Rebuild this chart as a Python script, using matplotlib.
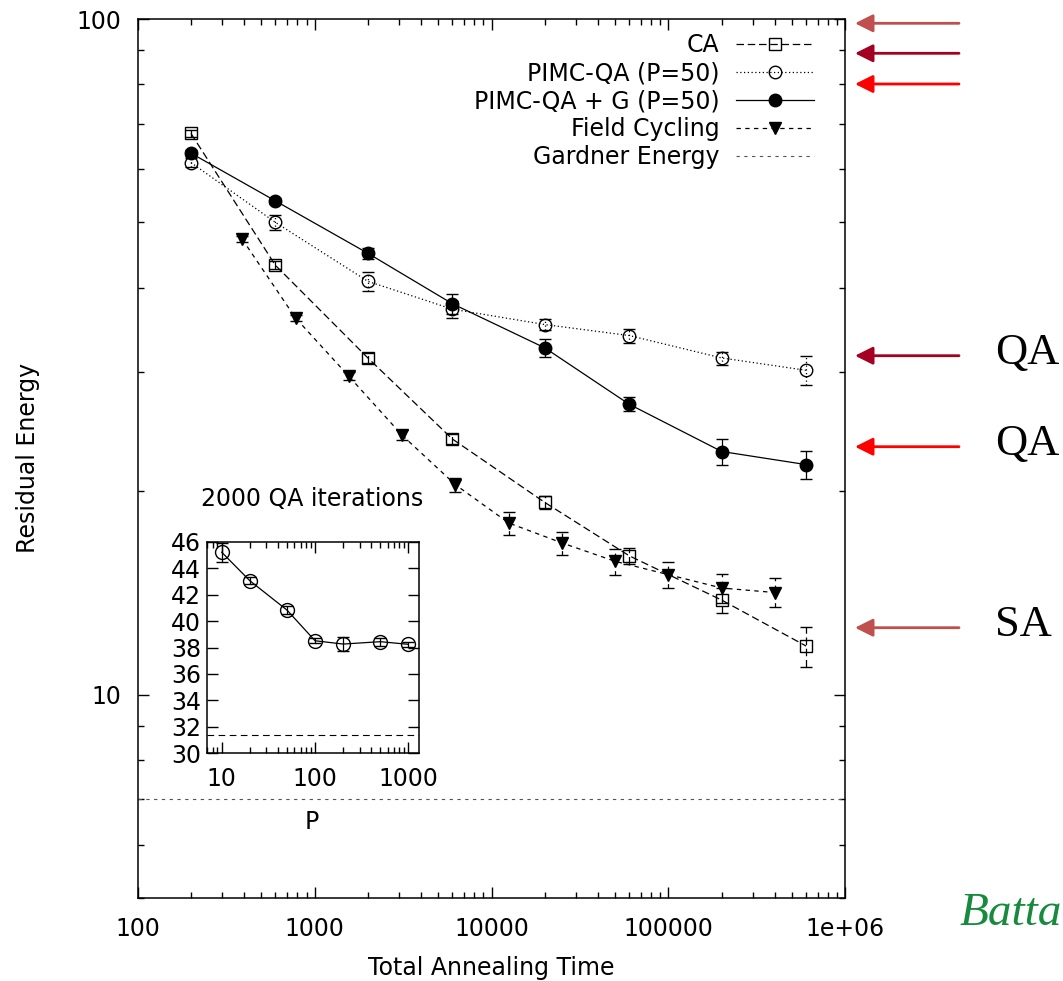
import matplotlib
matplotlib.use("Agg")
import matplotlib.pyplot as plt
from matplotlib.lines import Line2D
from matplotlib.patches import FancyArrowPatch
from matplotlib.ticker import LogLocator, FixedLocator, NullFormatter, FixedFormatter

plt.rcParams['font.family'] = ['DejaVu Sans']

# ---------------- data ----------------
ca_time = [200, 600, 2000, 6000, 20000, 60000, 200000, 600000]
ca_energy = [67.7, 43.2, 31.5, 23.9, 19.25, 16.05, 13.8, 11.8]
ca_err = [0.8, 0.6, 0.5, 0.4, 0.4, 0.45, 0.6, 0.8]

qa_time = [200, 600, 2000, 6000, 20000, 60000, 200000, 600000]
qa_energy = [61.3, 50.0, 40.9, 37.2, 35.3, 34.0, 31.5, 30.2]
qa_err = [1.0, 1.2, 1.3, 1.1, 0.7, 0.8, 0.7, 1.5]

qag_time = [200, 600, 2000, 6000, 20000, 60000, 200000, 600000]
qag_energy = [63.3, 53.8, 45.0, 37.9, 32.6, 26.9, 22.9, 21.9]
qag_err = [0.6, 0.5, 0.85, 1.3, 1.0, 0.65, 1.0, 1.05]

fc_time = [390, 780, 1560, 3125, 6250, 12500, 25000, 50000, 100000, 200000, 400000]
fc_energy = [47.2, 36.1, 29.6, 24.2, 20.45, 17.95, 16.77, 15.75, 15.05, 14.38, 14.16]
fc_err = [0.5, 0.4, 0.4, 0.4, 0.5, 0.7, 0.65, 0.7, 0.68, 0.7, 0.7]

gardner_energy = 7.0

inset_P = [10, 20, 50, 100, 200, 500, 1000]
inset_energy = [45.2, 43.05, 40.83, 38.51, 38.26, 38.44, 38.24]
inset_err = [0.7, 0.25, 0.3, 0.2, 0.5, 0.3, 0.2]
inset_gardner = 31.4

legend_labels = ["CA", "PIMC-QA (P=50)", "PIMC-QA + G (P=50)", "Field Cycling", "Gardner Energy"]
side_labels = ["QA", "QA", "SA"]
citation = "Batta"

# ---------------- styles ----------------
FS = 17
W, H = 1063, 981
fig = plt.figure(figsize=(W / 100, H / 100), dpi=100)

def fx(px):
    return px / W

def fy(py):
    return 1 - py / H

L, R, T, B = 137.7, 845.4, 19.0, 898.0
ax = fig.add_axes([fx(L), fy(B), fx(R) - fx(L), fy(T) - fy(B)])
ax.set_xscale('log')
ax.set_yscale('log')
ax.set_xlim(100, 1e6)
ax.set_ylim(5, 100)

ls_ca = (0, (6, 3))
ls_qa = (0, (1, 2))
ls_qag = '-'
ls_fc = (0, (3.5, 3.5))
ls_gd = (0, (3, 4))

def series(a, x, y, e, ls, marker, mfc, ms):
    eb = a.errorbar(x, y, yerr=e, color='black', ls=ls, lw=0.9, marker=marker,
                    mfc=mfc, mec='black', mew=1.0, ms=ms, capsize=4.5,
                    elinewidth=0.9, capthick=0.9)
    for lc in eb[2]:
        lc.set_linestyle(ls)
    return eb

series(ax, ca_time, ca_energy, ca_err, ls_ca, 's', 'none', 9)
series(ax, qa_time, qa_energy, qa_err, ls_qa, 'o', 'none', 9)
series(ax, qag_time, qag_energy, qag_err, ls_qag, 'o', 'black', 9)
series(ax, fc_time, fc_energy, fc_err, ls_fc, 'v', 'black', 8)
ax.axhline(gardner_energy, color='#555555', lw=0.8, ls=ls_gd)

ax.tick_params(which='both', direction='in', top=True, right=True, width=1.0, labelsize=FS)
ax.tick_params(which='major', length=8)
ax.tick_params(which='minor', length=4.5)
ax.xaxis.set_major_locator(FixedLocator([100, 1000, 10000, 100000, 1e6]))
ax.xaxis.set_major_formatter(FixedFormatter(["100", "1000", "10000", "100000", "1e+06"]))
ax.xaxis.set_minor_locator(LogLocator(base=10, subs=range(2, 10), numticks=20))
ax.xaxis.set_minor_formatter(NullFormatter())
ax.yaxis.set_major_locator(FixedLocator([10, 100]))
ax.yaxis.set_major_formatter(FixedFormatter(["10", "100"]))
ax.yaxis.set_minor_locator(LogLocator(base=10, subs=range(2, 10), numticks=20))
ax.yaxis.set_minor_formatter(NullFormatter())
ax.tick_params(axis='y', pad=12)
ax.tick_params(axis='x', pad=14)
for s in ax.spines.values():
    s.set_linewidth(1.1)

fig.text(fx(28), fy(458), "Residual Energy", rotation=90, ha='center', va='center', fontsize=FS)
fig.text(fx(491), fy(968), "Total Annealing Time", ha='center', va='center', fontsize=FS)

# legend
handles = [
    Line2D([], [], color='black', ls=ls_ca, lw=0.9, marker='s', mfc='none', mec='black', ms=9),
    Line2D([], [], color='black', ls=ls_qa, lw=0.9, marker='o', mfc='none', mec='black', ms=9),
    Line2D([], [], color='black', ls=ls_qag, lw=0.9, marker='o', mfc='black', mec='black', ms=9),
    Line2D([], [], color='black', ls=ls_fc, lw=0.9, marker='v', mfc='black', mec='black', ms=8),
    Line2D([], [], color='#555555', ls=ls_gd, lw=0.8),
]
ax.legend(handles, legend_labels, loc='upper right',
          bbox_to_anchor=((813.7 - L) / (R - L), 1 - (33.0 - T) / (B - T)),
          frameon=False, markerfirst=False, fontsize=FS, handlelength=3.3,
          handletextpad=0.7, labelspacing=0.17, borderpad=0, borderaxespad=0)

# inset
iL, iR, iT, iB = 206.7, 418.7, 541.7, 753.3
ax2 = fig.add_axes([fx(iL), fy(iB), fx(iR) - fx(iL), fy(iT) - fy(iB)])
ax2.set_xscale('log')
ax2.set_xlim(6.9, 1290)
ax2.set_ylim(30, 46)
ax2.errorbar(inset_P, inset_energy, yerr=inset_err, color='black', lw=0.9, marker='o',
             mfc='none', mec='black', mew=1.0, ms=10, capsize=4.5, elinewidth=0.9, capthick=0.9)
ax2.axhline(inset_gardner, color='black', lw=0.8, ls=(0, (6, 4)))
ax2.tick_params(which='both', direction='in', top=True, right=True, width=1.0, labelsize=FS)
ax2.tick_params(which='major', length=8)
ax2.tick_params(which='minor', length=4.5)
ax2.xaxis.set_major_locator(FixedLocator([10, 100, 1000]))
ax2.xaxis.set_major_formatter(FixedFormatter(["10", "100", "1000"]))
ax2.xaxis.set_minor_locator(LogLocator(base=10, subs=range(2, 10), numticks=20))
ax2.xaxis.set_minor_formatter(NullFormatter())
ax2.yaxis.set_major_locator(FixedLocator(list(range(30, 47, 2))))
ax2.tick_params(axis='y', pad=4)
ax2.tick_params(axis='x', pad=10)
for s in ax2.spines.values():
    s.set_linewidth(1.1)
fig.text(fx(312), fy(499), "2000 QA iterations", ha='center', va='center', fontsize=FS)
fig.text(fx(312), fy(822), "P", ha='center', va='center', fontsize=FS)

# right-side arrows and labels
arrow_y = [23.3, 53.3, 84.0, 355.7, 446.7, 627.7]
arrow_c = ['#C0504D', '#A50021', '#FF0000', '#A50021', '#FF0000', '#C0504D']
for yy, cc in zip(arrow_y, arrow_c):
    fig.patches.append(FancyArrowPatch(
        (fx(959), fy(yy)), (fx(855), fy(yy)), transform=fig.transFigure,
        arrowstyle='-|>,head_length=1.08,head_width=0.54', mutation_scale=10,
        color=cc, lw=2.0, shrinkA=0, shrinkB=0))
for yy, t in zip([353, 444, 625], side_labels):
    fig.text(fx(995), fy(yy), t, ha='left', va='center', fontsize=32,
             family='Liberation Serif')
fig.text(fx(960), fy(925), citation, ha='left', va='baseline', fontsize=34,
         family='Liberation Serif', style='italic', color='#178A3E')

fig.savefig("out.png", dpi=100)
